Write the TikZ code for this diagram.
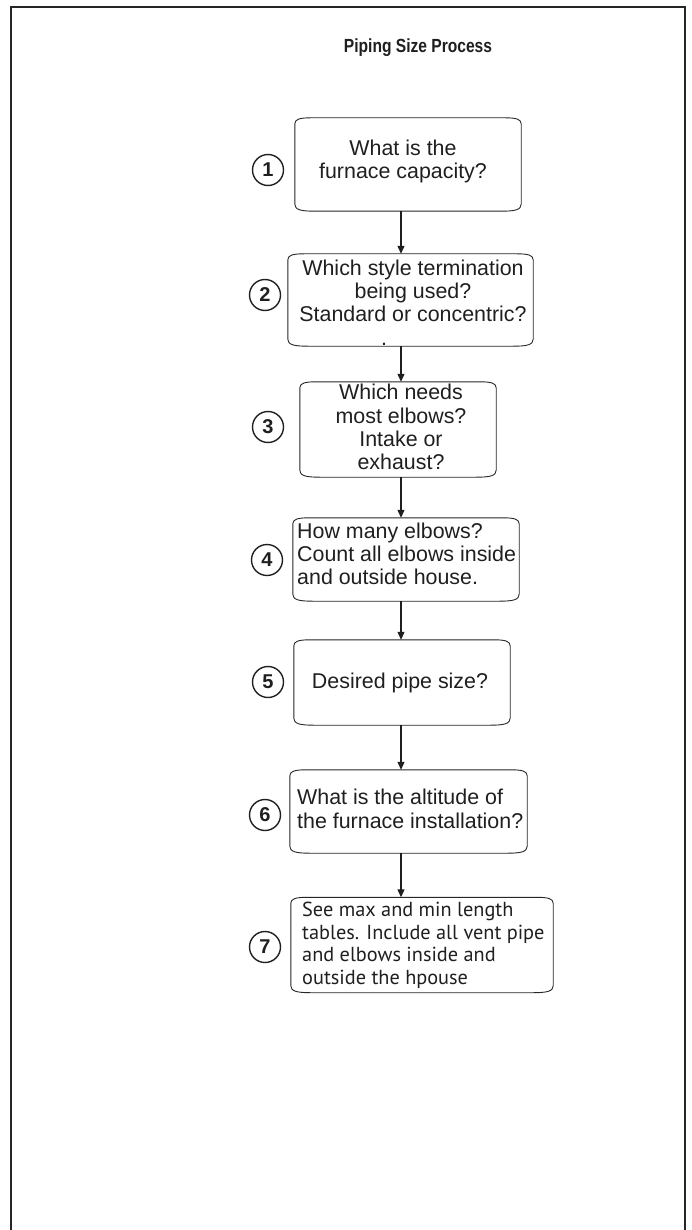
\documentclass[tikz,border=0pt]{standalone}
\usepackage{fontspec}
\setmainfont{Liberation Sans}
\newfontfamily\ptsans{PT Sans}
\newfontfamily\titlefont{Liberation Sans}[FakeStretch=0.82]
\usetikzlibrary{arrows.meta}
\newcommand{\curvybox}[1]{%
  \draw[boxline] ([yshift=-6pt]#1.north west)
    .. controls ([yshift=-1.5pt]#1.north west) and ([xshift=5pt]#1.north west) .. ([xshift=16pt]#1.north west)
    -- ([xshift=-16pt]#1.north east)
    .. controls ([xshift=-5pt]#1.north east) and ([yshift=-1.5pt]#1.north east) .. ([yshift=-6pt]#1.north east)
    -- ([yshift=7pt]#1.south east)
    .. controls ([yshift=1.5pt]#1.south east) and ([xshift=-6pt]#1.south east) .. ([xshift=-20pt]#1.south east)
    -- ([xshift=20pt]#1.south west)
    .. controls ([xshift=6pt]#1.south west) and ([yshift=1.5pt]#1.south west) .. ([yshift=7pt]#1.south west)
    -- cycle;}
\begin{document}
\begin{tikzpicture}[x=1pt,y=-1pt,
  boxline/.style={line width=0.9pt, draw=black!85},
  boxn/.style={rectangle, draw=none, inner sep=0pt},
  txt/.style={inner sep=0pt, font=\fontsize{21.4}{23.3}\selectfont, text=black!88},
  txtb/.style={inner sep=0pt, font=\ptsans\fontsize{20.3}{22.6}\selectfont, text=black!88},
  num/.style={circle, draw=black!88, line width=1.4pt, minimum size=31pt, inner sep=0pt,
    font=\fontsize{20}{22}\selectfont\bfseries, text=black!88},
  flow/.style={line width=1.1pt, draw=black!88, -{Triangle[width=7pt,length=8pt]}},
  frame/.style={line width=2.5pt, draw=black!85},
  titlestyle/.style={inner sep=0pt, font=\titlefont\fontsize{19}{22}\selectfont\bfseries, text=black!88}
]
\useasboundingbox (0,0) rectangle (691,1230);
\draw[frame] (11,1232) -- (11,7) -- (685,7) -- (685,1232);

\node[titlestyle] (title) at (418,48) {Piping Size Process};

% boxes
\node[boxn, minimum width=226pt, minimum height=93pt] (b1) at (408,164.5) {};
\node[boxn, minimum width=245pt, minimum height=92pt] (b2) at (410.5,300) {};
\node[boxn, minimum width=196pt, minimum height=95pt] (b3) at (398,429.5) {};
\node[boxn, minimum width=226pt, minimum height=83pt] (b4) at (406,559.5) {};
\node[boxn, minimum width=216pt, minimum height=85pt] (b5) at (402,682.5) {};
\node[boxn, minimum width=237pt, minimum height=83pt] (b6) at (408.5,811.5) {};
\node[boxn, minimum width=262pt, minimum height=95pt] (b7) at (422,945) {};
\curvybox{b1}\curvybox{b2}\curvybox{b3}\curvybox{b4}\curvybox{b5}\curvybox{b6}\curvybox{b7}

% texts
\node[txt, align=center] (t1) at (403,162) {\strut What is the\\\strut furnace capacity?};
\node[txt, align=center] (t2) at (413,305.5) {\strut Which style termination\\\strut being used?\\\strut Standard or concentric?\\\strut\makebox[0pt][r]{.\hspace{26pt}}};
\node[txt, align=center] (t3) at (401,430) {\strut Which needs\\\strut most elbows?\\\strut Intake or\\\strut exhaust?};
\node[txt, align=left, anchor=west] (t4) at (297,556.8) {\strut How many elbows?\\\strut Count all elbows inside\\\strut and outside house.};
\node[txt, anchor=base] (t5) at (400,688) {Desired pipe size?};
\node[txt, align=left, anchor=west] (t6) at (297,811.8) {\strut What is the altitude of\\\strut the furnace installation?};
\node[txtb, align=left, anchor=west] (t7) at (302,946) {\strut See max and min length\\\strut tables. Include all vent pipe\\\strut and elbows inside and\\\strut outside the hpouse};

% numbers
\node[num] (c1) at (268,170) {1};
\node[num] (c2) at (265,295) {2};
\node[num] (c3) at (268,427) {3};
\node[num] (c4) at (267,560) {4};
\node[num] (c5) at (268,682) {5};
\node[num] (c6) at (265,815) {6};
\node[num] (c7) at (265,947) {7};

% connectors
\coordinate (ax) at (401,0);
\draw[flow] (b1.south -| ax) -- (b2.north -| ax);
\draw[flow] (b2.south -| ax) -- (b3.north -| ax);
\draw[flow] (b3.south -| ax) -- (b4.north -| ax);
\draw[flow] (b4.south -| ax) -- (b5.north -| ax);
\draw[flow] (b5.south -| ax) -- (b6.north -| ax);
\draw[flow] (b6.south -| ax) -- (b7.north -| ax);
\end{tikzpicture}
\end{document}
